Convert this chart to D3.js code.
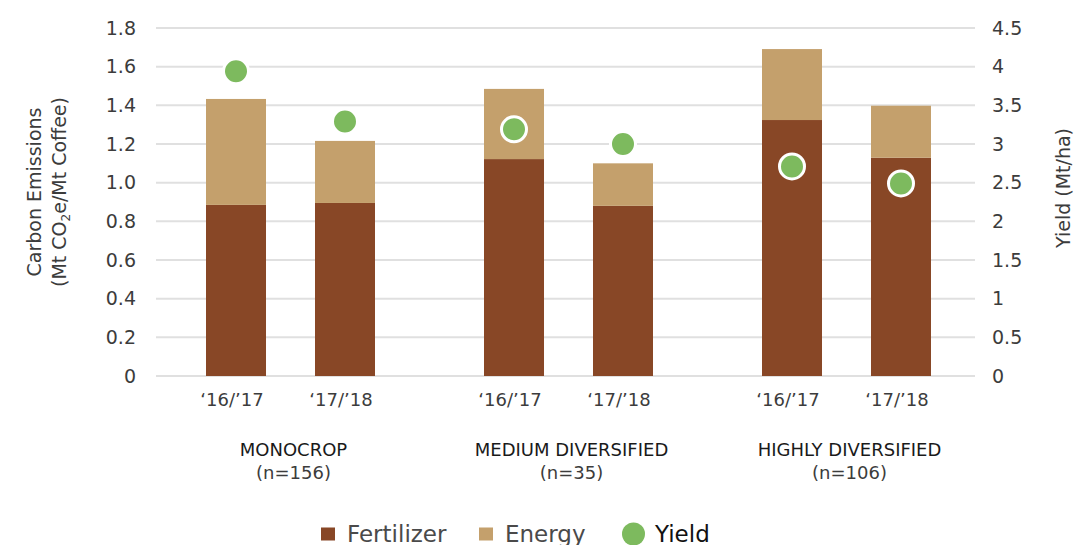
<!DOCTYPE html>
<html>
<head>
<meta charset="utf-8">
<script src="https://cdn.jsdelivr.net/npm/d3@7"></script>
<style>
  body { margin: 0; background: #fff; }
  svg text { font-family: "DejaVu Sans", "Noto Sans", sans-serif; }
</style>
</head>
<body>
<svg id="chart" width="1074" height="545"></svg>
<script>
  // data
  const groups = ["MONOCROP", "MEDIUM DIVERSIFIED", "HIGHLY DIVERSIFIED"];
  const groupN = ["(n=156)", "(n=35)", "(n=106)"];
  const years = ["\u201816/\u201917", "\u201817/\u201918"];
  const fertilizer = [0.885, 0.895, 1.122, 0.88, 1.324, 1.129];
  const energy = [0.548, 0.321, 0.363, 0.22, 0.367, 0.269];
  const yieldVals = [3.94, 3.29, 3.19, 3.0, 2.71, 2.49];
  const leftTicks = [0, 0.2, 0.4, 0.6, 0.8, 1.0, 1.2, 1.4, 1.6, 1.8];
  const rightTicks = [0, 0.5, 1, 1.5, 2, 2.5, 3, 3.5, 4, 4.5];

  const colFert = "#884726", colEnergy = "#C4A06C", colYield = "#7DBA5E";

  const svg = d3.select("#chart");
  const x0 = 156, x1 = 975, yTop = 28, yBot = 376;

  const xGroup = d3.scaleBand().domain(groups).range([151.5, 985.5]);
  const xYear = d3.scaleBand().domain(years).range([0, xGroup.bandwidth()])
    .paddingInner(0.4495).paddingOuter(0.5);
  const yL = d3.scaleLinear().domain([0, 1.8]).range([yBot, yTop]);
  const yR = d3.scaleLinear().domain([0, 4.5]).range([yBot, yTop]);

  // gridlines
  svg.append("g").selectAll("line").data(leftTicks).join("line")
    .attr("x1", x0).attr("x2", x1)
    .attr("y1", d => yL(d)).attr("y2", d => yL(d))
    .attr("stroke", "#e0e0e0").attr("stroke-width", 2);

  // left axis
  const axL = svg.append("g").attr("transform", `translate(${x0 - 20},0)`)
    .call(d3.axisLeft(yL).tickValues(leftTicks).tickSize(0).tickPadding(0)
      .tickFormat(d => d === 0 ? "0" : d3.format(".1f")(d)));
  axL.select(".domain").remove();
  axL.selectAll("text").attr("font-size", 19).attr("fill", "#3c3c3c");

  // right axis
  const axR = svg.append("g").attr("transform", `translate(${x1 + 17},0)`)
    .call(d3.axisRight(yR).tickValues(rightTicks).tickSize(0).tickPadding(0)
      .tickFormat(d => String(d)));
  axR.select(".domain").remove();
  axR.selectAll("text").attr("font-size", 19).attr("fill", "#3c3c3c");

  // flatten bars
  const rows = [];
  groups.forEach((g, gi) => years.forEach((yr, yi) => {
    const i = gi * 2 + yi;
    rows.push({ g, yr, fert: fertilizer[i], en: energy[i], yld: yieldVals[i] });
  }));
  const bx = d => xGroup(d.g) + xYear(d.yr);

  const bars = svg.append("g");
  bars.selectAll("rect.fert").data(rows).join("rect").attr("class", "fert")
    .attr("x", bx).attr("width", xYear.bandwidth())
    .attr("y", d => yL(d.fert)).attr("height", d => yL(0) - yL(d.fert))
    .attr("fill", colFert);
  bars.selectAll("rect.en").data(rows).join("rect").attr("class", "en")
    .attr("x", bx).attr("width", xYear.bandwidth())
    .attr("y", d => yL(d.fert + d.en)).attr("height", d => yL(d.fert) - yL(d.fert + d.en))
    .attr("fill", colEnergy);

  // yield dots
  svg.append("g").selectAll("circle").data(rows).join("circle")
    .attr("cx", d => bx(d) + xYear.bandwidth() / 2)
    .attr("cy", d => yR(d.yld))
    .attr("r", 12.5)
    .attr("fill", colYield).attr("stroke", "#fff").attr("stroke-width", 3);

  // year labels
  svg.append("g").selectAll("text").data(rows).join("text")
    .attr("x", d => bx(d) + xYear.bandwidth() / 2 - 4).attr("y", 406)
    .attr("text-anchor", "middle").attr("font-size", 18).attr("fill", "#3c3c3c")
    .text(d => d.yr);

  // group labels
  const gl = svg.append("g").selectAll("g").data(groups).join("g")
    .attr("transform", d => `translate(${xGroup(d) + xGroup.bandwidth() / 2 + 3},0)`);
  gl.append("text").attr("y", 456).attr("text-anchor", "middle")
    .attr("font-size", 18).attr("fill", "#1a1a1a").text(d => d);
  gl.append("text").attr("y", 479).attr("text-anchor", "middle")
    .attr("font-size", 18).attr("fill", "#3c3c3c").text((d, i) => groupN[i]);

  // axis titles
  const lt = svg.append("text").attr("transform", "translate(0,192) rotate(-90)")
    .attr("text-anchor", "middle").attr("font-size", 19).attr("fill", "#3c3c3c");
  lt.append("tspan").attr("x", 0).attr("y", 41).text("Carbon Emissions");
  const l2 = lt.append("tspan").attr("x", 0).attr("y", 66);
  l2.append("tspan").text("(Mt CO");
  l2.append("tspan").attr("font-size", 12).attr("dy", 4).text("2");
  l2.append("tspan").attr("dy", -4).text("e/Mt Coffee)");

  svg.append("text").attr("transform", "translate(1070,188) rotate(-90)")
    .attr("text-anchor", "middle").attr("font-size", 19).attr("fill", "#3c3c3c")
    .text("Yield (Mt/ha)");

  // legend
  const lg = svg.append("g").attr("transform", "translate(0,534)");
  lg.append("rect").attr("x", 321).attr("y", -6.5).attr("width", 14).attr("height", 13).attr("fill", colFert);
  lg.append("text").attr("x", 347).attr("y", 7.5).attr("font-size", 23).attr("fill", "#4a4a4a").text("Fertilizer");
  lg.append("rect").attr("x", 479).attr("y", -6.5).attr("width", 14).attr("height", 13).attr("fill", colEnergy);
  lg.append("text").attr("x", 505).attr("y", 7.5).attr("font-size", 23).attr("fill", "#4a4a4a").text("Energy");
  lg.append("circle").attr("cx", 633.5).attr("cy", 0).attr("r", 11.5).attr("fill", colYield);
  lg.append("text").attr("x", 655).attr("y", 7.5).attr("font-size", 23).attr("fill", "#111").text("Yield");
</script>
</body>
</html>
